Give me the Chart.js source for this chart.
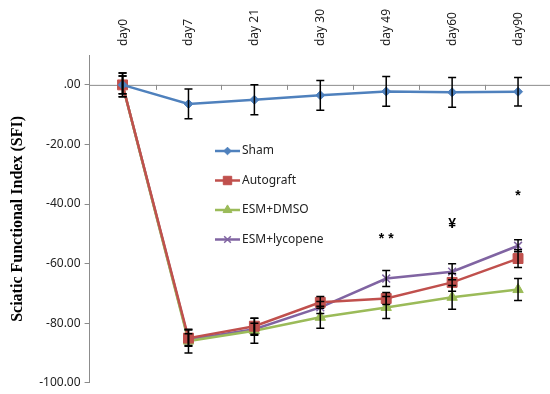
<!DOCTYPE html>
<html><head><meta charset="utf-8">
<script src="https://cdn.jsdelivr.net/npm/chart.js@4"></script>
<style>html,body{margin:0;padding:0;background:#fff;overflow:hidden}#wrap{width:559px;height:394px;position:relative}</style>
</head><body><div id="wrap"><canvas id="c"></canvas></div>
<script>
const categories = ['day0','day7','day 21','day 30','day 49','day60','day90'];
const seriesNames = ['Sham','Autograft','ESM+DMSO','ESM+lycopene'];
const sham = [0,-6.4,-5,-3.5,-2.2,-2.5,-2.3];
const shamErr = [4,5,5,5,5,5,4.8];
const autograft = [0,-85,-81,-73,-71.7,-66.3,-58.3];
const autograftErr = [3,2.7,2.7,2,2,3,3];
const esmDmso = [0,-86,-82.5,-78,-74.7,-71.3,-68.7];
const esmDmsoErr = [4,4,4.2,3.7,3.7,4,3.7];
const esmLyco = [0,-85.5,-82,-74.7,-65,-62.7,-54];
const esmLycoErr = [3,2,2,2,2.7,2.7,2];
const yTicks = [-100,-80,-60,-40,-20,0];
const sigMarks = [{i:4,text:'* *',v:-51.7},{i:5,text:'¥',v:-46.7},{i:6,text:'*',v:-37.3}];

const colors = ['#4F81BD','#C0504D','#9BBB59','#8064A2'];
const styles = ['rectRot','rect','triangle','crossRot'];
const radii = [4.5,7,6,5.5];
const values = [sham,autograft,esmDmso,esmLyco];
const errors = [shamErr,autograftErr,esmDmsoErr,esmLycoErr];

const datasets = values.map((d,k)=>({
  label: seriesNames[k], data: d, borderColor: colors[k], backgroundColor: colors[k],
  borderWidth: 2.5, pointStyle: styles[k], pointRadius: radii[k], pointBorderWidth: k===3?1.5:1,
  pointBorderColor: colors[k], pointBackgroundColor: colors[k], tension: 0, errs: errors[k]
}));

const extras = {
  id: 'extras',
  beforeDatasetsDraw(chart){
    const {ctx, scales:{x,y}, chartArea} = chart;
    const y0 = y.getPixelForValue(0);
    ctx.save();
    ctx.strokeStyle = '#8c8c8c'; ctx.lineWidth = 1;
    ctx.beginPath(); ctx.moveTo(chartArea.left, y0+0.5); ctx.lineTo(chartArea.right, y0+0.5); ctx.stroke();
    for (let i=0;i<categories.length-1;i++){
      const b = (x.getPixelForValue(i)+x.getPixelForValue(i+1))/2;
      ctx.beginPath(); ctx.moveTo(Math.round(b)+0.5,y0); ctx.lineTo(Math.round(b)+0.5,y0+5); ctx.stroke();
    }
    ctx.restore();
  },
  afterDatasetsDraw(chart){
    const {ctx, scales:{x,y}} = chart;
    ctx.save();
    ctx.strokeStyle = '#000'; ctx.lineWidth = 1.5;
    chart.data.datasets.forEach(ds=>{
      ds.data.forEach((v,i)=>{
        const e = ds.errs[i]; const px = x.getPixelForValue(i);
        const t = y.getPixelForValue(v+e), b = y.getPixelForValue(v-e);
        ctx.beginPath();
        ctx.moveTo(px,t); ctx.lineTo(px,b);
        ctx.moveTo(px-4,t); ctx.lineTo(px+4,t);
        ctx.moveTo(px-4,b); ctx.lineTo(px+4,b);
        ctx.stroke();
      });
    });
    ctx.fillStyle = '#000'; ctx.font = 'bold 14px "Liberation Sans"'; ctx.textAlign='center'; ctx.textBaseline='middle';
    sigMarks.forEach(m=>{ ctx.fillText(m.text, x.getPixelForValue(m.i), y.getPixelForValue(m.v)); });
    const lx = 215, ly0 = 151, gap = 29.5;
    ctx.font = '12px "Noto Sans"'; ctx.textAlign='left'; ctx.textBaseline='middle';
    chart.data.datasets.forEach((ds,k)=>{
      const yy = ly0 + k*gap;
      ctx.strokeStyle = ds.borderColor; ctx.fillStyle = ds.backgroundColor; ctx.lineWidth = 2.5;
      ctx.beginPath(); ctx.moveTo(lx,yy); ctx.lineTo(lx+25,yy); ctx.stroke();
      ctx.lineWidth = ds.pointBorderWidth;
      Chart.helpers.drawPoint(ctx,{pointStyle: ds.pointStyle, radius: ds.pointRadius*0.85, borderWidth: ds.pointBorderWidth, rotation:0}, lx+12.5, yy);
      ctx.fillStyle = '#222';
      ctx.fillText(ds.label, lx+27, yy);
    });
    ctx.restore();
  }
};

new Chart(document.getElementById('c'), {
  type: 'line',
  data: { labels: categories, datasets },
  options: {
    responsive: true, maintainAspectRatio: false, animation: false,
    layout: { padding: { left: 8, right: 0, top: 0, bottom: 4 } },
    plugins: { legend: { display: false }, tooltip: { enabled: false } },
    scales: {
      x: {
        position: 'top', offset: true,
        afterFit(scale){ scale.paddingRight = 0; scale.paddingLeft = 0; },
        grid: { display: false, drawTicks: false },
        border: { display: false },
        ticks: { minRotation: 90, maxRotation: 90, padding: 9, labelOffset: 15, color: '#222', font: { family: 'Noto Sans', size: 12 } }
      },
      y: {
        min: -100, max: 10,
        afterBuildTicks(scale){ scale.ticks = yTicks.map(v=>({value:v})); },
        grid: { display: true, drawOnChartArea: false, drawTicks: true, tickLength: 5, color: '#8c8c8c' },
        border: { display: true, color: '#8c8c8c', width: 1 },
        ticks: { padding: 4, color: '#222', font: { family: 'Noto Sans', size: 12 },
          callback: v => v === 0 ? '.00' : Number(v).toFixed(2) },
        title: { display: true, text: 'Sciatic Functional Index (SFI)', color: '#000',
          font: { family: 'Liberation Serif', size: 16, weight: 'bold' }, padding: { top: 0, bottom: 8 } }
      }
    }
  },
  plugins: [extras]
});
</script></body></html>
